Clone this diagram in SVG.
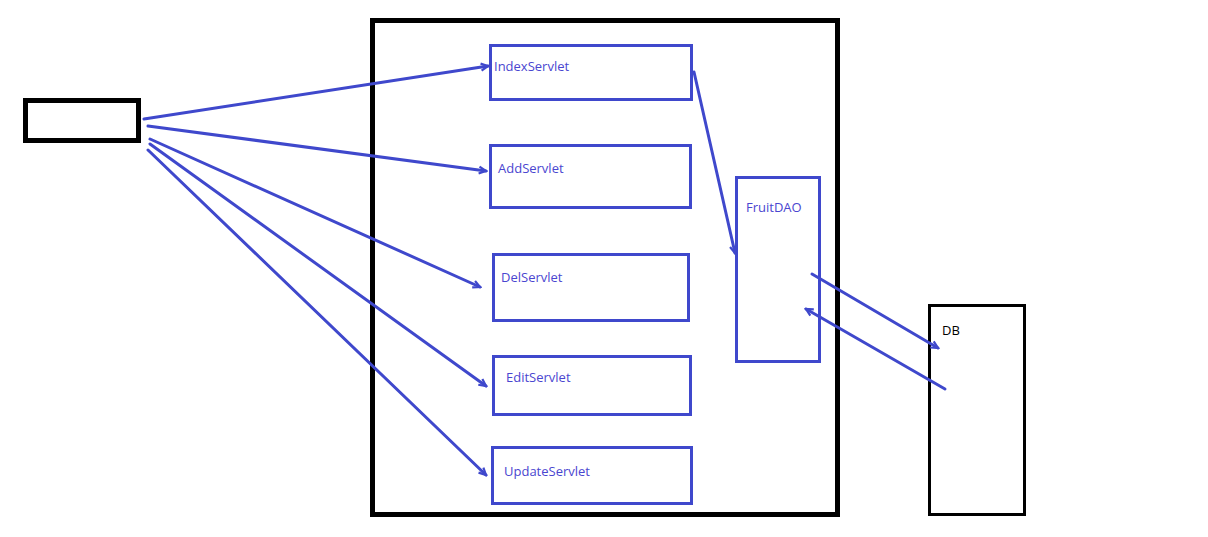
<svg xmlns="http://www.w3.org/2000/svg" width="1208" height="537" viewBox="0 0 1208 537">
<style>
.blk{fill:none;stroke:#000;stroke-width:5}
.box{fill:none;stroke:#3f48cc;stroke-width:3}
.lbl{font-family:"Open Sans","Noto Sans","DejaVu Sans",sans-serif;font-size:13px;fill:#4a46d0}
.c{fill:none;stroke:#3f48cc;stroke-width:3;stroke-linecap:round;marker-end:url(#ah)}
</style>
<defs>
<marker id="ah" markerUnits="userSpaceOnUse" markerWidth="12" markerHeight="12" refX="10" refY="6" orient="auto" viewBox="0 0 12 12">
<path d="M3,2.5 L10,6 L3,9.5" fill="none" stroke="#3f48cc" stroke-width="2.2"/>
</marker>
</defs>
<rect width="1208" height="537" fill="#fff"/>
<g id="client"><rect class="blk" x="25.5" y="100.5" width="113" height="40"/></g>
<g id="container"><rect class="blk" x="372.5" y="20.5" width="465" height="494"/></g>
<g id="IndexServlet"><rect class="box" x="490.5" y="45.5" width="201" height="54"/><text class="lbl" x="494" y="71">IndexServlet</text></g>
<g id="AddServlet"><rect class="box" x="490.5" y="145.5" width="200" height="62"/><text class="lbl" x="498" y="173">AddServlet</text></g>
<g id="DelServlet"><rect class="box" x="493.5" y="254.5" width="195" height="66"/><text class="lbl" x="501" y="282">DelServlet</text></g>
<g id="EditServlet"><rect class="box" x="493.5" y="356.5" width="197" height="58"/><text class="lbl" x="506" y="382">EditServlet</text></g>
<g id="UpdateServlet"><rect class="box" x="492.5" y="447.5" width="199" height="56"/><text class="lbl" x="504" y="476">UpdateServlet</text></g>
<g id="FruitDAO"><rect class="box" x="736.5" y="177.5" width="83" height="184"/><text class="lbl" x="746" y="212">FruitDAO</text></g>
<g id="DB"><rect fill="none" stroke="#000" stroke-width="3" x="929.5" y="305.5" width="95" height="209"/><text x="942" y="335" font-family="'Open Sans','Noto Sans','DejaVu Sans',sans-serif" font-size="13" fill="#000">DB</text></g>
<g id="connectors">
<line class="c" x1="144" y1="119" x2="488" y2="66"/>
<line class="c" x1="148" y1="126" x2="486" y2="171"/>
<line class="c" x1="150" y1="139" x2="480" y2="287"/>
<line class="c" x1="150" y1="144" x2="486" y2="386"/>
<line class="c" x1="148" y1="150" x2="486" y2="475"/>
<line class="c" x1="694" y1="72" x2="735" y2="253"/>
<line class="c" x1="812" y1="274" x2="938" y2="348"/>
<line class="c" x1="945" y1="389" x2="806" y2="309"/>
</g>
</svg>
